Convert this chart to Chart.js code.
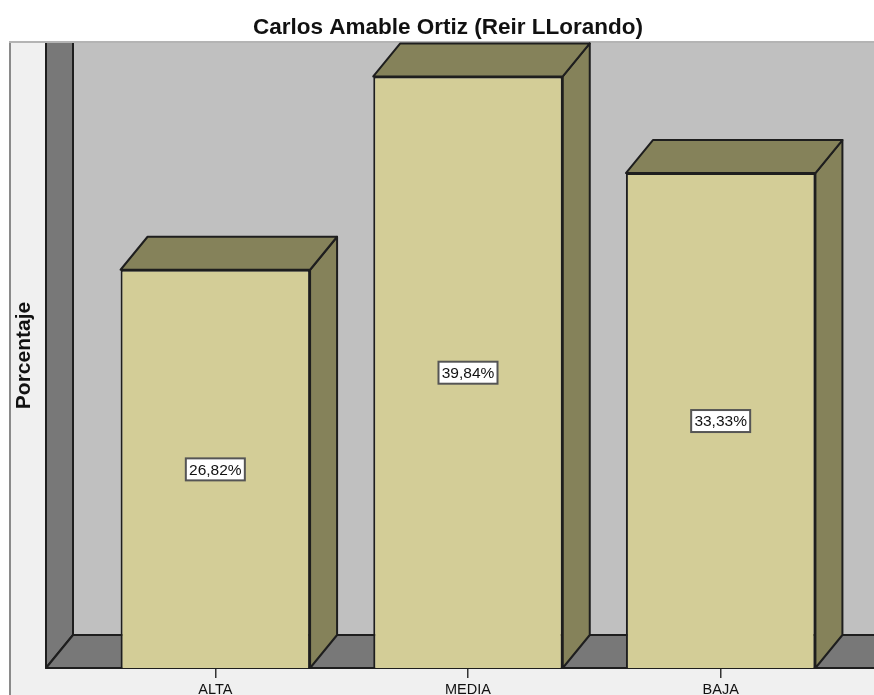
<!DOCTYPE html>
<html>
<head>
<meta charset="utf-8">
<style>html,body{margin:0;padding:0;background:#fff;overflow:hidden}canvas{display:block}</style>
<script src="https://cdn.jsdelivr.net/npm/chart.js@4"></script>
</head>
<body>
<div style="position:relative;width:874px;height:695px"><canvas id="c"></canvas></div>
<script>
const categories = ["ALTA", "MEDIA", "BAJA"];
const percentages = [26.82, 39.84, 33.33];
const chartTitle = "Carlos Amable Ortiz (Reir LLorando)";
const yTitle = "Porcentaje";

const DX = 27, DY = 33, LINE = "#1e1e1e";
function poly(ctx, pts, fill) {
  ctx.beginPath();
  pts.forEach((p, i) => i ? ctx.lineTo(p[0], p[1]) : ctx.moveTo(p[0], p[1]));
  ctx.closePath();
  ctx.fillStyle = fill; ctx.fill();
  ctx.strokeStyle = LINE; ctx.lineWidth = 2; ctx.lineJoin = "round"; ctx.stroke();
}
const scene3d = {
  id: "scene3d",
  beforeDraw(chart) {
    const { ctx, width, height } = chart;
    ctx.save();
    ctx.fillStyle = "#ffffff"; ctx.fillRect(0, 0, width, height);
    ctx.fillStyle = "#f0f0f0"; ctx.fillRect(10, 43, width - 10, height - 43);
    ctx.fillStyle = "#8a8a8a"; ctx.fillRect(9, 43, 2, height - 43);
    ctx.fillStyle = "#b4b4b4"; ctx.fillRect(9, 41, width - 9, 2);
    ctx.restore();
  },
  beforeDatasetsDraw(chart) {
    const { ctx, width, chartArea: a } = chart;
    const base = chart.scales.y.getPixelForValue(0);
    const L = a.left - 43, B = L + DX, T = a.top;
    ctx.save();
    ctx.beginPath(); ctx.rect(0, T, width, base - T + 4); ctx.clip();
    ctx.fillStyle = "#c0c0c0"; ctx.fillRect(B, T, width - B, base - T);
    poly(ctx, [[L, T - 5], [B, T - 5], [B, base - DY], [L, base]], "#787878");
    poly(ctx, [[L, base], [B, base - DY], [width + 5, base - DY], [width + 5, base]], "#787878");
    ctx.restore();
  },
  afterDatasetsDraw(chart) {
    const { ctx, width, chartArea: a } = chart;
    const meta = chart.getDatasetMeta(0);
    ctx.save();
    ctx.beginPath(); ctx.rect(0, a.top - 1, width, chart.height - a.top); ctx.clip();
    meta.data.forEach((bar) => {
      const p = bar.getProps(["x", "y", "base", "width"], true);
      const l = p.x - p.width / 2, r = p.x + p.width / 2;
      poly(ctx, [[r, p.y], [r + DX, p.y - DY], [r + DX, p.base - DY], [r, p.base]], "#85825a");
      poly(ctx, [[l, p.y], [l + DX, p.y - DY], [r + DX, p.y - DY], [r, p.y]], "#85825a");
    });
    ctx.restore();
    ctx.save();
    ctx.font = "15.5px 'Liberation Sans'";
    ctx.textAlign = "center"; ctx.textBaseline = "middle";
    meta.data.forEach((bar, i) => {
      const p = bar.getProps(["x", "y", "base"], true);
      const txt = percentages[i].toFixed(2).replace(".", ",") + "%";
      const cy = (p.y + p.base) / 2 + 0.5, w = 59, h = 22;
      ctx.fillStyle = "#ffffff";
      ctx.fillRect(p.x - w / 2, cy - h / 2, w, h);
      ctx.strokeStyle = "#555555"; ctx.lineWidth = 2;
      ctx.strokeRect(p.x - w / 2, cy - h / 2, w, h);
      ctx.fillStyle = "#111111";
      ctx.fillText(txt, p.x, cy + 1);
    });
    ctx.restore();
  }
};

new Chart(document.getElementById("c"), {
  type: "bar",
  data: {
    labels: categories,
    datasets: [{
      data: percentages,
      backgroundColor: "#d3cd97",
      borderColor: LINE,
      borderWidth: 2,
      barPercentage: 0.75,
      categoryPercentage: 1
    }]
  },
  plugins: [scene3d],
  options: {
    responsive: true,
    maintainAspectRatio: false,
    animation: false,
    layout: { padding: { left: 49, right: 27, top: 0, bottom: 0 } },
    plugins: {
      legend: { display: false },
      tooltip: { enabled: false },
      title: {
        display: true,
        text: chartTitle,
        color: "#111111",
        font: { family: "'Liberation Sans'", size: 22.5, weight: "bold" },
        padding: { top: 14.5, bottom: 1.5 }
      }
    },
    scales: {
      x: {
        grid: { offset: false, drawOnChartArea: false, drawTicks: true, tickLength: 10, color: "#333333", lineWidth: 1.5 },
        border: { display: false },
        ticks: { color: "#111111", padding: 3, maxRotation: 0, font: { family: "'Liberation Sans'", size: 14.5 } },
        afterFit(s) { s.height = 27; }
      },
      y: {
        min: 0,
        max: 42.09,
        ticks: { display: false },
        grid: { display: false },
        border: { display: false },
        title: {
          display: true,
          text: yTitle,
          color: "#111111",
          font: { family: "'Liberation Sans'", size: 21, weight: "bold" },
          padding: { top: -37.6, bottom: 0 }
        },
        afterFit(s) { s.width = 40; }
      }
    }
  }
});
</script>
</body>
</html>
